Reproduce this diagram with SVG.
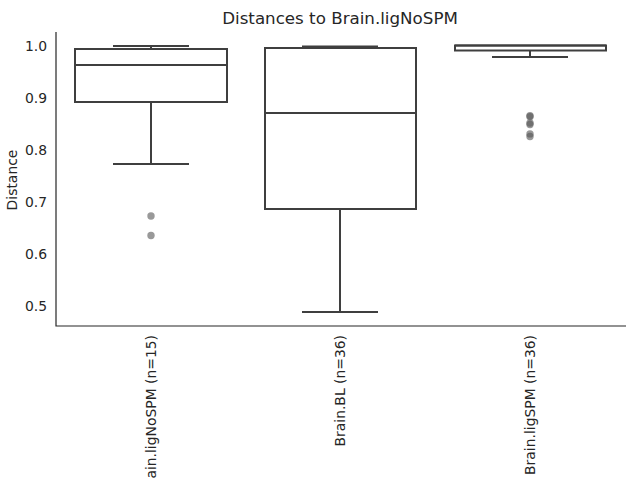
<svg xmlns="http://www.w3.org/2000/svg" width="640" height="480" viewBox="0 0 640 480">
<style>
text{font-family:"DejaVu Sans","Liberation Sans",sans-serif;fill:#262626}
.tick{font-size:13.9px;text-anchor:end}
.xl{font-size:13.9px;text-anchor:end}
.box{fill:#ffffff;stroke:#3f3f3f;stroke-width:2}
.ln{stroke:#3f3f3f;stroke-width:2;fill:none}
.fl{fill:#555555;fill-opacity:0.6}
.spine{stroke:#262626;stroke-width:1.2;fill:none}
</style>
<rect width="640" height="480" fill="#ffffff"/>
<text x="340" y="23.5" style="font-size:16.7px" text-anchor="middle">Distances to Brain.ligNoSPM</text>
<g id="yaxis">
<text class="tick" x="47" y="51">1.0</text>
<text class="tick" x="47" y="103">0.9</text>
<text class="tick" x="47" y="155">0.8</text>
<text class="tick" x="47" y="207">0.7</text>
<text class="tick" x="47" y="259">0.6</text>
<text class="tick" x="47" y="311">0.5</text>
<text transform="translate(17,180) rotate(-90)" style="font-size:13.9px" text-anchor="middle">Distance</text>
</g>
<g id="box1">
<line class="ln" x1="151" y1="49" x2="151" y2="46"/>
<line class="ln" x1="113" y1="46" x2="189" y2="46"/>
<line class="ln" x1="151" y1="102" x2="151" y2="164"/>
<line class="ln" x1="113" y1="164" x2="189" y2="164"/>
<rect class="box" x="75" y="49" width="152" height="53"/>
<line class="ln" x1="75" y1="65" x2="227" y2="65"/>
<circle class="fl" cx="151" cy="216" r="3.7"/>
<circle class="fl" cx="151" cy="235.5" r="3.7"/>
</g>
<g id="box2">
<line class="ln" x1="340" y1="48" x2="340" y2="46.5"/>
<line class="ln" x1="302" y1="46.5" x2="378" y2="46.5"/>
<line class="ln" x1="340" y1="209" x2="340" y2="312"/>
<line class="ln" x1="302" y1="312" x2="378" y2="312"/>
<rect class="box" x="265" y="48" width="151" height="161"/>
<line class="ln" x1="265" y1="113" x2="416" y2="113"/>
</g>
<g id="box3">
<line class="ln" x1="530" y1="50.5" x2="530" y2="57"/>
<line class="ln" x1="492" y1="57" x2="568" y2="57"/>
<rect class="box" x="455" y="45.5" width="151" height="5"/>
<line class="ln" x1="455" y1="45.5" x2="606" y2="45.5"/>
<circle class="fl" cx="530" cy="115.7" r="3.7"/>
<circle class="fl" cx="530" cy="116.7" r="3.7"/>
<circle class="fl" cx="530" cy="123" r="3.7"/>
<circle class="fl" cx="530" cy="124.5" r="3.7"/>
<circle class="fl" cx="530" cy="133.9" r="3.7"/>
<circle class="fl" cx="530" cy="136.5" r="3.7"/>
</g>
<g id="spines">
<path class="spine" d="M56 32 V326 H626"/>
</g>
<g id="xaxis">
<text class="xl" transform="translate(156,335) rotate(-90)">ain.ligNoSPM (n=15)</text>
<text class="xl" transform="translate(345,335) rotate(-90)">Brain.BL (n=36)</text>
<text class="xl" transform="translate(535,335) rotate(-90)">Brain.ligSPM (n=36)</text>
</g>
</svg>
